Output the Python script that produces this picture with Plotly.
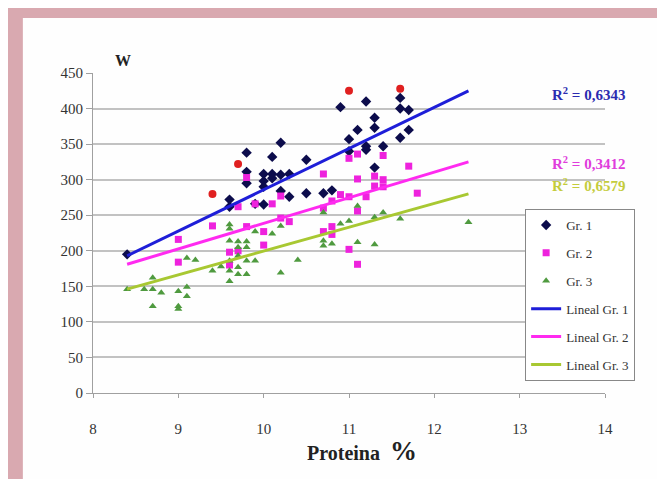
import plotly.graph_objects as go

# ---- data ----
gr1_x = [8.4, 9.6, 9.6, 9.8, 9.8, 9.8, 9.9, 10.0, 10.0, 10.0, 10.0, 10.1, 10.1, 10.1, 10.2, 10.2, 10.2,
         10.3, 10.3, 10.5, 10.5, 10.7, 10.8, 10.9, 11.0, 11.0, 11.1, 11.2, 11.2, 11.2, 11.3, 11.3, 11.3,
         11.4, 11.6, 11.6, 11.6, 11.7, 11.7]
gr1_y = [195, 272, 262, 338, 311, 295, 266, 265, 308, 298, 290, 332, 308, 302, 352, 307, 284,
         308, 276, 328, 281, 281, 285, 402, 357, 340, 370, 410, 347, 342, 387, 373, 317,
         347, 415, 400, 359, 398, 370]

gr2_x = [9.0, 9.0, 9.4, 9.6, 9.6, 9.7, 9.7, 9.8, 9.8, 9.9, 10.0, 10.0, 10.1, 10.2, 10.2, 10.3,
         10.7, 10.7, 10.7, 10.8, 10.8, 10.8, 10.9, 11.0, 11.0, 11.0, 11.1, 11.1, 11.1, 11.1, 11.2,
         11.3, 11.3, 11.4, 11.4, 11.4, 11.7, 11.8]
gr2_y = [216, 184, 235, 198, 180, 262, 200, 303, 234, 266, 227, 208, 266, 277, 246, 241,
         308, 260, 227, 270, 234, 223, 279, 330, 276, 202, 336, 301, 256, 181, 276,
         305, 291, 334, 300, 290, 319, 281]

gr3_x = [8.4, 8.6, 8.7, 8.7, 8.7, 8.8, 9.0, 9.0, 9.0, 9.1, 9.1, 9.1, 9.2, 9.4, 9.5, 9.6, 9.6, 9.6,
         9.6, 9.6, 9.6, 9.7, 9.7, 9.7, 9.7, 9.7, 9.8, 9.8, 9.8, 9.8, 9.9, 9.9, 10.1, 10.2, 10.2,
         10.4, 10.7, 10.7, 10.7, 10.8, 10.9, 11.0, 11.1, 11.1, 11.3, 11.3, 11.4, 11.6, 12.4]
gr3_y = [146, 146, 146, 162, 122, 141, 143, 122, 118, 190, 149, 136, 187, 172, 178, 237, 231, 214,
         186, 172, 157, 213, 205, 193, 177, 167, 213, 205, 186, 167, 227, 186, 224, 235, 169,
         187, 254, 214, 207, 210, 238, 242, 263, 212, 247, 209, 254, 245, 240]

red_x = [9.4, 9.7, 11.0, 11.6]
red_y = [280, 322, 425, 428]

trend_x = [8.4, 12.4]
trend1_y = [193, 425]
trend2_y = [181, 325]
trend3_y = [146, 280]

r2_labels = ["R<sup>2</sup> = 0,6343", "R<sup>2</sup> = 0,3412", "R<sup>2</sup> = 0,6579"]
r2_y = [420, 323, 292]
r2_colors = ["#2b2bb0", "#e03cdc", "#c4cc3c"]

x_ticks = [8, 9, 10, 11, 12, 13, 14]
y_ticks = [0, 50, 100, 150, 200, 250, 300, 350, 400, 450]

FONT = "Liberation Serif"

fig = go.Figure()

fig.add_trace(go.Scatter(x=gr1_x, y=gr1_y, mode="markers", name="Gr. 1", legendgroup="a",
                         marker=dict(symbol="diamond", size=8, color="#0c0c4c")))
fig.add_trace(go.Scatter(x=gr2_x, y=gr2_y, mode="markers", name="Gr. 2", legendgroup="b",
                         marker=dict(symbol="square", size=7, color="#ee22dd")))
fig.add_trace(go.Scatter(x=gr3_x, y=gr3_y, mode="markers", name="Gr. 3", legendgroup="c",
                         marker=dict(symbol="triangle-up", size=7, color="#4f9a3f")))
fig.add_trace(go.Scatter(x=red_x, y=red_y, mode="markers", showlegend=False,
                         marker=dict(symbol="circle", size=8, color="#e02020")))
fig.add_trace(go.Scatter(x=trend_x, y=trend1_y, mode="lines", name="Lineal Gr. 1", legendgroup="d",
                         line=dict(color="#1e1ed8", width=3)))
fig.add_trace(go.Scatter(x=trend_x, y=trend2_y, mode="lines", name="Lineal Gr. 2", legendgroup="e",
                         line=dict(color="#ff2af0", width=3)))
fig.add_trace(go.Scatter(x=trend_x, y=trend3_y, mode="lines", name="Lineal Gr. 3", legendgroup="f",
                         line=dict(color="#a8c832", width=3)))

annotations = []
for lab, yy, col in zip(r2_labels, r2_y, r2_colors):
    annotations.append(dict(x=13.81, y=yy, xref="x", yref="y", text="<b>" + lab + "</b>",
                            showarrow=False, font=dict(family=FONT, size=15, color=col)))
annotations.append(dict(x=0.039, y=1.072, xref="paper", yref="paper", text="<b>W</b>",
                        showarrow=False, font=dict(family=FONT, size=16, color="#222")))
annotations.append(dict(x=0.525, y=-0.235, xref="paper", yref="paper",
                        text="<b>Proteina  <span style='font-size:27px'>%</span></b>",
                        showarrow=False, font=dict(family=FONT, size=20, color="#222")))

fig.update_layout(
    width=665, height=479,
    margin=dict(l=85, r=68, t=65, b=94),
    paper_bgcolor="#d9a9b0",
    plot_bgcolor="white",
    font=dict(family=FONT, size=14, color="#333"),
    shapes=[dict(type="rect", xref="paper", yref="paper", x0=-0.137, x1=1.2, y0=-0.35, y1=1.172,
                 fillcolor="#fefefe", line=dict(width=0), layer="below")],
    annotations=annotations,
    legend=dict(x=0.844, y=0.575, xanchor="left", yanchor="top",
                bgcolor="white", bordercolor="#888", borderwidth=1,
                font=dict(family=FONT, size=13, color="#333"),
                traceorder="grouped", tracegroupgap=8),
    showlegend=True,
)
fig.update_xaxes(range=[8, 14], tickvals=x_ticks, showgrid=False, zeroline=False,
                 showline=True, linecolor="#a0a0a0", linewidth=1,
                 ticks="outside", ticklen=4, tickcolor="#a0a0a0",
                 ticklabelstandoff=18, tickfont=dict(family=FONT, size=15, color="#333"))
fig.update_yaxes(range=[0, 450], tickvals=y_ticks, showgrid=True, gridcolor="#c2c2c2", gridwidth=2,
                 zeroline=False, showline=True, linecolor="#a0a0a0", linewidth=1,
                 ticks="outside", ticklen=6, tickcolor="#a0a0a0",
                 tickfont=dict(family=FONT, size=15, color="#333"))

fig.write_html("out.html")
